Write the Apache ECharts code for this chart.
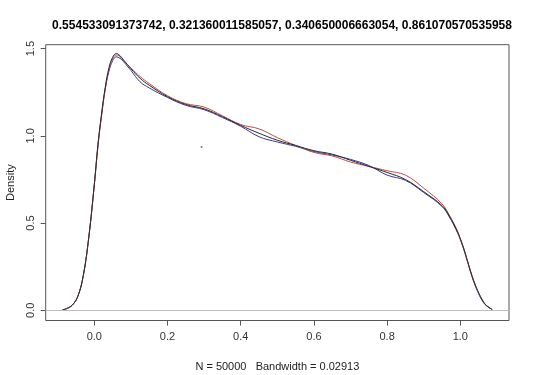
<!DOCTYPE html>
<html>
<head>
<meta charset="utf-8">
<script src="https://cdn.jsdelivr.net/npm/echarts@6/dist/echarts.min.js"></script>
<style>
html,body{margin:0;padding:0;background:#fff;}
#c{width:540px;height:375px;}
</style>
</head>
<body>
<div id="c"></div>
<script>
const titleText = "0.554533091373742, 0.321360011585057, 0.340650006663054, 0.861070570535958";
const xLabel = "N = 50000   Bandwidth = 0.02913";
const yLabel = "Density";
const xTicks = [0.0, 0.2, 0.4, 0.6, 0.8, 1.0];
const yTicks = [0.0, 0.5, 1.0, 1.5];

const xs = [-0.087,-0.075,-0.06,-0.045,-0.03,-0.015,0,0.01,0.02,0.03,0.04,0.05,0.06,0.07,0.08,0.1,0.125,0.15,0.2,0.25,0.3,0.35,0.4,0.45,0.5,0.55,0.6,0.65,0.7,0.75,0.8,0.85,0.9,0.95,0.97,0.99,1.0,1.01,1.02,1.03,1.04,1.05,1.06,1.07,1.087];
const densBlack = [0.002,0.01,0.03,0.08,0.2,0.42,0.72,0.95,1.13,1.28,1.39,1.45,1.472,1.46,1.435,1.385,1.33,1.29,1.225,1.18,1.155,1.11,1.06,1.015,0.975,0.945,0.915,0.895,0.86,0.825,0.79,0.75,0.68,0.6,0.54,0.46,0.41,0.35,0.28,0.21,0.15,0.1,0.06,0.03,0.005];
const densRed   = [0.002,0.01,0.03,0.08,0.2,0.42,0.72,0.95,1.12,1.27,1.38,1.44,1.464,1.455,1.43,1.39,1.34,1.30,1.23,1.185,1.165,1.115,1.065,1.04,0.99,0.945,0.905,0.885,0.85,0.825,0.80,0.775,0.70,0.61,0.545,0.465,0.41,0.35,0.28,0.21,0.15,0.1,0.06,0.03,0.005];
const densBlue  = [0.002,0.01,0.03,0.08,0.2,0.42,0.72,0.94,1.12,1.27,1.37,1.43,1.453,1.445,1.425,1.375,1.31,1.275,1.22,1.175,1.15,1.105,1.055,0.995,0.965,0.94,0.91,0.89,0.865,0.83,0.775,0.745,0.675,0.595,0.535,0.455,0.405,0.345,0.275,0.205,0.145,0.095,0.055,0.028,0.005];
const strayPoint = [[0.293, 0.936]];

const X_MIN = -0.1328, X_MAX = 1.133;
const Y_MIN = -0.0586, Y_MAX = 1.5226;

const pair = arr => xs.map((x,i)=>[x, arr[i]]);
const chart = echarts.init(document.getElementById('c'), null, {renderer:'canvas'});
const font = 'Liberation Sans, Arial, Helvetica, sans-serif';
const lineSeries = (name, data, color) => ({
  name, type:'line', data: pair(data), smooth: 0.4, symbol:'none',
  lineStyle:{color, width:1}, z:3, animation:false
});
chart.setOption({
  animation:false,
  backgroundColor:'#fff',
  title:{
    text:titleText, left: 277, top: 15, textAlign:'center',
    textStyle:{fontFamily:font, fontSize:12, fontWeight:'bold', color:'#000'}
  },
  grid:{left:45.7, right:31, top:44.7, bottom:54.5, show:true, borderColor:'#555', borderWidth:1,
        backgroundColor:'transparent', outerBoundsMode:'none', containLabel:false},
  xAxis:{
    type:'value', min:X_MIN, max:X_MAX, interval:(X_MAX-X_MIN),
    name:xLabel, nameLocation:'middle', nameGap:41,
    nameTextStyle:{fontFamily:font, fontSize:11, color:'#222'},
    axisLine:{show:false, onZero:false},
    axisTick:{show:true, customValues:xTicks, length:5, lineStyle:{color:'#555'}},
    axisLabel:{customValues:xTicks, formatter:v=>v.toFixed(1), margin:11, fontFamily:font, fontSize:11, color:'#333'},
    splitLine:{show:false}
  },
  yAxis:{
    type:'value', min:Y_MIN, max:Y_MAX, interval:(Y_MAX-Y_MIN),
    name:yLabel, nameLocation:'middle', nameGap:29, nameRotate:90,
    nameTextStyle:{fontFamily:font, fontSize:11, color:'#222'},
    axisLine:{show:false, onZero:false},
    axisTick:{show:true, customValues:yTicks, length:5, lineStyle:{color:'#555'}},
    axisLabel:{customValues:yTicks, formatter:v=>v.toFixed(1), rotate:90, margin:9, fontFamily:font, fontSize:11, color:'#333'},
    splitLine:{show:false}
  },
  series:[
    {type:'line', data:[], markLine:{silent:true, symbol:'none', label:{show:false}, lineStyle:{color:'#bdbdbd', type:'solid', width:1}, data:[{yAxis:0}]}, z:1},
    lineSeries('blue', densBlue, '#3a3a9a'),
    lineSeries('red', densRed, '#b85050'),
    lineSeries('black', densBlack, '#2a2a2a'),
    {type:'scatter', data:strayPoint, symbolSize:2, itemStyle:{color:'#555'}, z:4}
  ]
});
</script>
</body>
</html>
